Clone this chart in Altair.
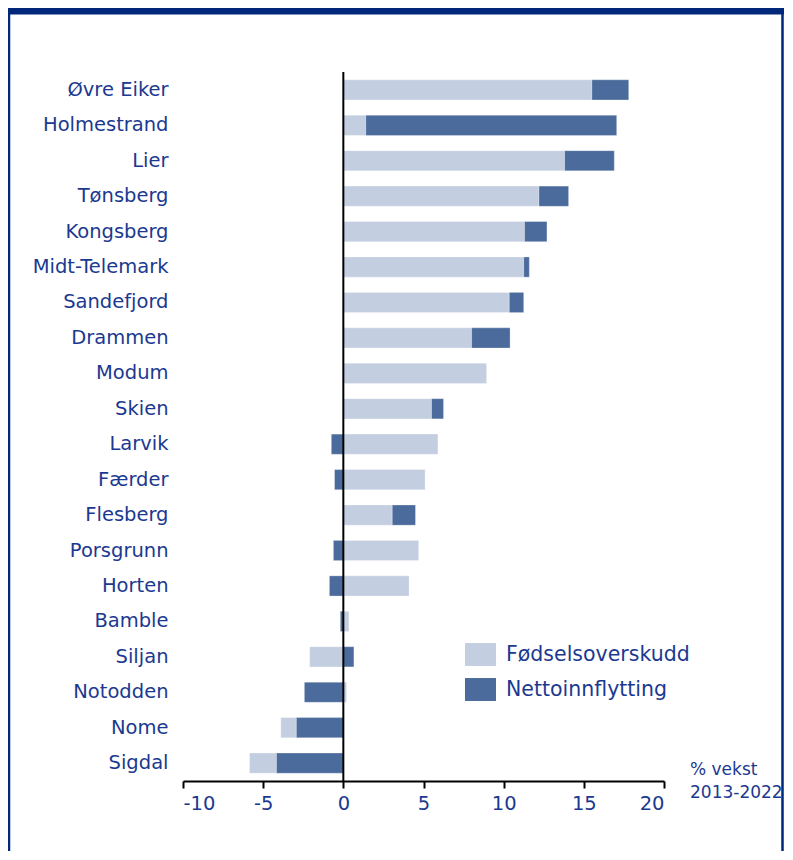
import altair as alt
import pandas as pd

kommuner = ["Øvre Eiker", "Holmestrand", "Lier", "Tønsberg", "Kongsberg", "Midt-Telemark",
            "Sandefjord", "Drammen", "Modum", "Skien", "Larvik", "Færder", "Flesberg",
            "Porsgrunn", "Horten", "Bamble", "Siljan", "Notodden", "Nome", "Sigdal"]
fodselsoverskudd = [15.5, 1.4, 13.8, 12.2, 11.3, 11.25, 10.35, 8.0, 8.95, 5.5, 5.9, 5.1, 3.05,
                    4.7, 4.1, 0.35, -2.1, 0.2, -0.97, -1.68]
nettoinnflytting = [2.3, 15.65, 3.1, 1.85, 1.4, 0.35, 0.9, 2.4, 0.0, 0.75, -0.75, -0.55, 1.45,
                    -0.62, -0.87, -0.19, 0.66, -2.43, -2.93, -4.17]
serier = ["Fødselsoverskudd", "Nettoinnflytting"]
farger = ["#c3cee0", "#4a6b9b"]
x_ticks = [-10, -5, 0, 5, 10, 15, 20]

rows = []
for k, f, n in zip(kommuner, fodselsoverskudd, nettoinnflytting):
    # positive side: fødsel inner, netto outer; negative side: netto inner, fødsel outer
    if f >= 0:
        f0, f1 = 0, f
    else:
        f0, f1 = min(n, 0), min(n, 0) + f
    if n >= 0:
        n0, n1 = max(f, 0), max(f, 0) + n
    else:
        n0, n1 = 0, n
    rows.append({"kommune": k, "serie": serier[0], "x0": f0, "x1": f1})
    rows.append({"kommune": k, "serie": serier[1], "x0": n0, "x1": n1})
df = pd.DataFrame(rows)

TXT = "#1b3990"
FONT = "DejaVu Sans"
FS = 19.5
W, H = 481, 709
PL, PT, PR, PB = 175, 64, 120, 70

bars = alt.Chart(df).mark_bar(stroke="#ffffff", strokeWidth=0.6, strokeOpacity=0.5).encode(
    x=alt.X("x0:Q", scale=alt.Scale(domain=[-10, 20], nice=False),
            axis=alt.Axis(values=x_ticks, title=None, grid=False, domainColor="#000000",
                          domainWidth=2, tickColor="#000000", tickWidth=2, tickSize=7,
                          labelExpr="'' + datum.value",
                          labelFontSize=FS, labelColor=TXT, labelFont=FONT, labelPadding=6)),
    x2="x1:Q",
    y=alt.Y("kommune:N", sort=kommuner,
            scale=alt.Scale(paddingInner=0.43, paddingOuter=0.22),
            axis=alt.Axis(title=None, domain=False, ticks=False, labelFontSize=FS,
                          labelColor=TXT, labelFont=FONT, labelPadding=15, labelLimit=300)),
    color=alt.Color("serie:N", scale=alt.Scale(domain=serier, range=farger),
                    legend=alt.Legend(title=None, orient="none", legendX=282, legendY=567,
                                      symbolType="M-1,-0.74H1V0.74H-1Z", symbolSize=961,
                                      symbolStrokeWidth=0, labelFontSize=20.5, labelColor=TXT,
                                      labelFont=FONT, labelOffset=10, rowPadding=8, padding=0,
                                      labelLimit=400)),
)

zero = alt.Chart(pd.DataFrame({"x": [0]})).mark_rule(color="#000000", strokeWidth=2).encode(
    x="x:Q", y=alt.value(0), y2=alt.value(H))

unit = alt.Chart(pd.DataFrame({"t": [["% vekst", "2013-2022"]]})).mark_text(
    align="left", baseline="middle", fontSize=17, font=FONT, color=TXT, lineHeight=23
).encode(text="t", x=alt.value(507), y=alt.value(698))

frame_top = alt.Chart(pd.DataFrame({"a": [0]})).mark_rule(color="#00277a", strokeWidth=7).encode(
    x=alt.value(-PL), x2=alt.value(W + PR), y=alt.value(-PT + 3))
frame_left = alt.Chart(pd.DataFrame({"a": [0]})).mark_rule(color="#00277a", strokeWidth=2.5).encode(
    x=alt.value(-PL + 1), y=alt.value(-PT), y2=alt.value(H + PB))
frame_right = alt.Chart(pd.DataFrame({"a": [0]})).mark_rule(color="#00277a", strokeWidth=2.5).encode(
    x=alt.value(W + PR - 1.5), y=alt.value(-PT), y2=alt.value(H + PB))

chart = alt.layer(bars, zero, unit, frame_top, frame_left, frame_right).properties(
    width=W, height=H,
    autosize=alt.AutoSizeParams(type="none"),
    padding={"left": PL, "top": PT, "right": PR, "bottom": PB},
).configure(background="#ffffff").configure_view(stroke=None)

chart.save("out.html", embed_options={"renderer": "svg", "actions": False})
